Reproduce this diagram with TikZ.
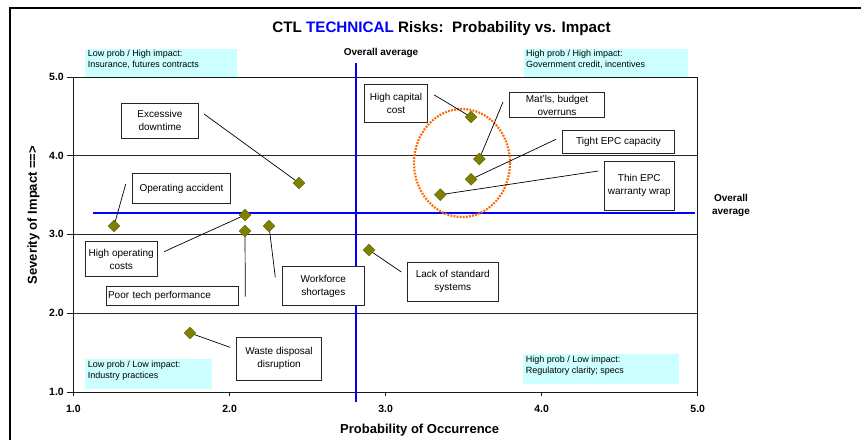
\documentclass[tikz,border=0pt]{standalone}
\usepackage{fontspec}
\setmainfont{Liberation Sans}
\usetikzlibrary{shapes.geometric}
\definecolor{riskolive}{HTML}{808000}
\definecolor{riskedge}{HTML}{5E5E00}
\definecolor{quadcyan}{HTML}{CCFFFF}
\definecolor{ellorange}{HTML}{FF6600}
\tikzset{
  lbox/.style={draw=black!85, fill=white, line width=0.8pt, inner sep=0pt, align=center,
    font=\fontsize{10}{13}\selectfont},
  qbox/.style={fill=quadcyan, inner sep=0pt, anchor=north west},
  qtext/.style={inner sep=0pt, anchor=north west, align=left, font=\fontsize{9}{10.7}\selectfont},
  riskpt/.style={diamond, fill=riskolive, draw=riskedge, line width=0.4pt, minimum size=12pt, inner sep=0pt},
  leader/.style={draw=black, line width=0.7pt},
  grid line/.style={draw=black!85, line width=0.8pt},
  axisline/.style={draw=black!90, line width=1pt},
  avgline/.style={draw=blue, line width=2.4pt},
  ticklab/.style={font=\bfseries\fontsize{10.5}{12}\selectfont, inner sep=0pt},
  axtitle/.style={font=\bfseries\fontsize{13}{15}\selectfont, inner sep=0pt},
}
\begin{document}
\begin{tikzpicture}[x=1pt,y=-1pt]
\useasboundingbox (0,0) rectangle (861,439);
\fill[white] (0,0) rectangle (861,439);
% outer frame
\draw[line width=1.5pt] (10,441) -- (10,8) -- (863,8);
% title
\node[font=\bfseries\fontsize{15.2}{17}\selectfont, inner sep=0pt] (title) at (441.5,28.5)
  {CTL \textcolor{blue}{TECHNICAL} Risks:\ \ Probability vs. Impact};
% quadrant boxes
\node[qbox, minimum width=151.7pt, minimum height=29pt] (qlh) at (85,48.3) {};
\node[qtext] (qlht) at (87.7,50.2) {Low prob / High impact:\\Insurance, futures contracts};
\node[qbox, minimum width=164.4pt, minimum height=29pt] (qhh) at (523.3,48.3) {};
\node[qtext] (qhht) at (526,50.2) {High prob / High impact:\\Government credit, incentives};
\node[qbox, minimum width=127pt, minimum height=30pt] (qll) at (85,359) {};
\node[qtext] (qllt) at (87.7,360.9) {Low prob / Low impact:\\Industry practices};
\node[qbox, minimum width=156pt, minimum height=29.7pt] (qhl) at (523,354) {};
\node[qtext] (qhlt) at (525.7,355.9) {High prob / Low impact:\\Regulatory clarity; specs};
% grid and axes
\coordinate (pO) at (73.3,392);
\coordinate (pTL) at (73.3,77.3);
\coordinate (pTR) at (697.7,77.3);
\coordinate (pBR) at (697.7,392);
\draw[grid line] (73.3,155.7) -- (697.7,155.7);
\draw[grid line] (73.3,234.3) -- (697.7,234.3);
\draw[grid line] (73.3,313.3) -- (697.7,313.3);
\draw[axisline] (pTL) -- (pTR) -- (697.7,396);
\draw[axisline] (pTL) -- (pO) -- (pBR);
\foreach \yy/\lab in {77.3/5.0,155.7/4.0,234.3/3.0,313.3/2.0,392/1.0}{
  \draw[axisline] (66.7,\yy) -- (73.3,\yy);
  \node[ticklab, anchor=east] at (64,\yy) {\lab};
}
\foreach \xx/\lab in {73.3/1.0,229.7/2.0,385.7/3.0,541.7/4.0,697.7/5.0}{
  \draw[axisline] (\xx,392) -- (\xx,396);
  \node[ticklab] at (\xx,408.5) {\lab};
}
\node[axtitle] (xtitle) at (419.7,430) {Probability of Occurrence};
\node[axtitle, rotate=90] (ytitle) at (33.5,215) {Severity of Impact ==>};
% average lines
\draw[avgline] (355.7,62.7) -- (355.7,402);
\draw[avgline] (92.7,213) -- (695,213);
\node[font=\bfseries\fontsize{10}{11}\selectfont, inner sep=0pt] (avgtop) at (381,52.7) {Overall average};
\node[font=\bfseries\fontsize{10}{13}\selectfont, inner sep=0pt, align=center] (avgright) at (731,205.5) {Overall\\average};
% cluster ellipse
\draw[ellorange, line width=2.2pt, dash pattern=on 1.8pt off 1.3pt] (462,163) ellipse [x radius=48, y radius=54];
% label boxes
\node[lbox, minimum width=76.6pt, minimum height=35pt] (bexc) at (160,120.8) {Excessive\\downtime};
\node[lbox, minimum width=98.4pt, minimum height=29.6pt] (bopa) at (181.5,188.5) {Operating accident};
\node[lbox, minimum width=72.3pt, minimum height=35pt] (bhoc) at (121.2,259.2) {High operating\\costs};
\node[lbox, minimum width=132.7pt, minimum height=18.3pt, text width=128.5pt, align=left] (bptp) at (172.3,295.8) {Poor tech performance};
\node[lbox, minimum width=82.7pt, minimum height=38.6pt] (bwfs) at (323.3,286) {Workforce\\shortages};
\node[lbox, minimum width=91pt, minimum height=39pt] (blss) at (452.8,281.5) {Lack of standard\\systems};
\node[lbox, minimum width=85.4pt, minimum height=43.3pt] (bwdd) at (279,358.7) {Waste disposal\\disruption};
\node[lbox, minimum width=63.4pt, minimum height=38pt] (bhcc) at (396,103.3) {High capital\\cost};
\node[lbox, minimum width=95.4pt, minimum height=25.4pt] (bmbo) at (557,105) {Mat'ls, budget\\overruns};
\node[lbox, minimum width=111.6pt, minimum height=23.3pt] (btec) at (618.5,141.7) {Tight EPC capacity};
\node[lbox, minimum width=70pt, minimum height=49pt] (bthn) at (639.3,185.5) {Thin EPC\\warranty wrap};
% leader start points
\coordinate (lexc) at (204,114);
\coordinate (lopa) at (125.7,184);
\coordinate (lhoc) at (164,251.7);
\coordinate (lptp) at (245.3,296.7);
\coordinate (lwfs) at (275.3,277.3);
\coordinate (llss) at (401.3,272);
\coordinate (lwdd) at (230,347.3);
\coordinate (lhcc) at (434.3,95);
\coordinate (lmbo) at (503,102);
\coordinate (ltec) at (556,139.3);
\coordinate (lthn) at (598.3,171);
% risk points
\coordinate (dopa) at (114,226);
\coordinate (dhoc) at (245,215);
\coordinate (dptp) at (245,231);
\coordinate (dwfs) at (269,226);
\coordinate (dlss) at (369,250);
\coordinate (dwdd) at (190,333);
\coordinate (dexc) at (299,183);
\coordinate (dhcc) at (471,117);
\coordinate (dmbo) at (479.3,159);
\coordinate (dtec) at (471,179.3);
\coordinate (dthn) at (440.3,194.7);
\foreach \n in {exc,opa,hoc,ptp,wfs,lss,wdd,hcc,mbo,tec,thn}{
  \draw[leader] (l\n) -- (d\n);
}
\foreach \n in {exc,opa,hoc,ptp,wfs,lss,wdd,hcc,mbo,tec,thn}{
  \node[riskpt] (p\n) at (d\n) {};
}
\end{tikzpicture}
\end{document}
